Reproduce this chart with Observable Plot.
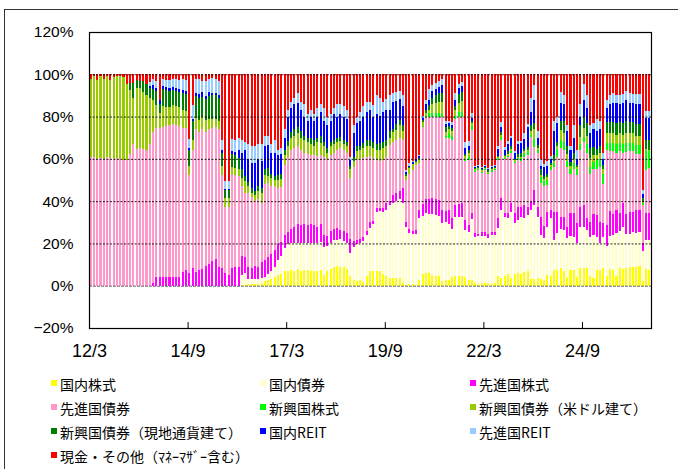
<!DOCTYPE html>
<html><head><meta charset="utf-8">
<script src="https://cdn.jsdelivr.net/npm/d3@7"></script>
<script src="https://cdn.jsdelivr.net/npm/@observablehq/plot@0.6"></script>
<style>
body{margin:0;background:#fff;}
#wrap{position:relative;width:678px;height:469px;overflow:hidden;font-family:"Noto Sans CJK JP",sans-serif;background:#fff;}
#border{position:absolute;left:4px;top:9px;width:720px;height:520px;border-top:1px solid #333;border-left:1px solid #333;}
#chart{position:absolute;left:0;top:0;}
#legend{position:absolute;left:0;top:372px;width:678px;height:97px;}
.item{position:absolute;font-size:14px;line-height:16px;white-space:nowrap;color:#000;}
.sw{position:absolute;width:6px;height:6px;}
</style></head><body>
<div id="wrap"><div id="border"></div><div id="chart"></div><div id="legend"></div></div>
<script>
const seriesNames = ["国内株式","国内債券","先進国株式","先進国債券","新興国株式","新興国債券（米ドル建て）","新興国債券（現地通貨建て）","国内REIT","先進国REIT","現金・その他（ﾏﾈｰﾏｻﾞｰ含む）"];
const seriesColors = ["#FFFF00","#FFFFCC","#FF00FF","#FF99CC","#00FF00","#99CC00","#008000","#0000FF","#99CCFF","#FF0000"];
const xTickLabels = ["12/3","14/9","17/3","19/9","22/3","24/9"];
const yTickValues = [-20,0,20,40,60,80,100,120];
const gridValues = [20,40,60,80,100];

// monthly allocation (%), 2012/3 onward
const ds = [
0,0,0,0,0,0,0,0,0,0, 0,0,0,0,0,0,0,0,0,0, 0,0,0,0,0,0,0,0,0,0, 0,0,0,0,0,0,0,0,0,0, 0,0,0,0,0,0,
0.5,0.5,1,1,1,1,1.5,2,2.5,3,
4,5.2,5.7,6.8,7,7.5,6.8,7.9,6.8,7.5,
7.5,7.1,7.1,6.8,7.5,5.2,6.8,7.9,8.8,9.1,
8.8,8.8,7.9,4.4,2.8,2.4,2.8,1.6,4.4,6.8,
6.8,7.1,7.1,5.7,4.4,3.6,3.6,3.6,3.6,1.3,
0.5,0.8,0.8,0.5,2.8,5.7,6,6,5.2,4.4,
4.7,2.4,2.5,2.8,4.1,4.7,4.7,4.4,4.1,2.8,
2.8,1.3,1,1.3,1.3,1.3,1,1.3,4.4,3.6,
4.7,5.7,3.6,5.7,6,5.7,6.3,6.8,3.1,3.1,
3.5,3.1,2.5,5.2,4.4,7.5,7.5,8.3,6.8,3.6,
7.5,7.5,4,8.3,8.3,8.3,4.4,3.6,7.5,7.5,
8.3,4.4,7.9,7.5,4.4,8.3,7.9,8.3,8.8,8.7,
8.8,9.1,2,7.9,7.5];
const db = [
0,0,0,0,0,0,0,0,0,0, 0,0,0,0,0,0,0,0,0,0, 0,0,0,0,0,0,0,0,0,0, 0,0,0,0,0,0,0,0,0,0, 0,0,0,0,0,0,
4.5,5.5,2,2,2,2,2,2,3,4,
5,6.8,8.3,11.2,12.5,12.5,13.2,12.1,13.2,12.5,
12.5,12.9,12.9,13.2,13,13.3,12.2,12.1,12.7,12.4,
13.2,12.2,12.1,11.1,15.7,17.1,17.2,19.4,19.6,20.7,
22.4,27.9,28.4,29.3,31.6,34.4,35.4,36.4,37.4,37.7,
27.5,24,23.6,23.9,29.1,27.3,28.3,28,28.8,29.1,
28.3,27.2,27.5,26.2,22.6,28,28,28.3,22.3,22.8,
28.6,21.7,22.3,22.4,22.2,21.5,23,22.7,22.8,32.2,
28,26.2,31.5,23.9,25.1,27,25.6,26.7,32.7,35.1,
29.2,20.9,20,22.8,27.6,14.2,17.3,18.7,19.6,18.9,
15.8,15.5,16.1,19.7,19.7,18.2,18.6,20.4,15.5,12.6,
14.7,14.2,15.6,16.5,20.6,17.7,20.1,16.2,15.7,16.8,
16.2,16.4,14.2,13.8,14.2];
const fs = [
0,0,0,0,0,0,0,0,0,0, 0,0,0,0,0,0,0,0,0,
1.3,4,4,4,4,4,4,4,4,6.7,
7.6,6,8.2,6.5,7.4,7.9,9.5,10.5,11.5,12.5,
9,8.5,6,5.3,8.3,8.7,8.8,9,7.5,6,
5.5,6.5,6,7.5,8,8,8,8,7.5,6.5,
6,6,7,8,9,8.5,9,8.5,9,8.5,
8,8.5,5.5,4.5,6,5.5,6,4.5,5,5,
6.5,2.5,2,2,2,2,2.5,1.6,1.6,1.3,
1.6,3,2,4,4,4,7,2.3,1.9,1.6,
2.1,3.9,5.5,6.7,7,7.5,7.5,7.5,6.4,5.5,
7,5.3,5.3,5.8,6.3,4.6,3.2,3.2,1.8,1.2,
1.9,1.7,1.7,1.6,1.6,4.7,5.6,1.6,2.4,4.2,
4.7,6.3,4.7,6.3,3.9,4,7.1,4.7,8.7,5.8,
7,3.8,13.3,10.2,5.5,6.3,5.5,11,11.3,9.5,
9.4,10.2,5.5,7,10,10.5,10.1,6.6,10.2,12,
10,10.8,8.3,11,9.5,10.5,9.5,10.8,10.3,3.9,
12.6,12.6];
const fb = [
61,61,60,60.5,60,61,60.5,60,60.5,60,59.5,59.5,
62.5,67,64.5,65,64.5,64,67,71.5,70.5,70.5,
71,71.5,72,72.5,72,71.5,68,67,46.5,56,
67.5,65.5,66,63,63.5,63.2,62.5,65,44,31.4,
32,44,43.5,43,33,30.5,35,33.5,30.5,32,
28,36,35,32,30,26.5,26,33,35.5,37,
37,37,35.5,34,34,33,33.5,33.5,33,37,
36.5,36,36,36.5,38.5,38,38,29,35,38.5,
38,37.5,35,31.5,29.4,22.9,22.2,22.9,22,26.5,
25,25,25,23,19.7,26.3,28.7,30.5,22.2,36.5,
39,39,38.5,39,39.5,44,34.2,33.7,36.9,41,
41.5,41,28,30.6,39,29.2,30,27.9,29.3,28.5,
28.4,28.9,27.5,27.5,25.7,26.7,23.3,23.7,22,21.6,
22.8,24.6,30.6,20.4,25.6,15.7,18.7,12.6,18.9,21,
26,32.5,31.3,28,18.7,20.7,22.9,26.6,29.8,31,
23,21,21.5,25.8,18.4,35.2,28,29.5,27.2,29.2,
24,29.4,28.5,28.5,26.7,26.7,18.1,20.4,21.2];
const es = [
0,0,0,0,0,0,0,0,0,0, 0,0,0,0,0,0,0,0,0,0, 0,0,0,0,0,0,0,0,0,0, 0,0,0,0,0,0,0,0,0,0,
0,0,0,0,0,0,0,0,0,0, 0,0,0,0,0,0,0,0,0,0, 0,0,0,0,0,0,0,0,0,0, 0,0,0,0,0,0,0,0,0,0,
0,0,0,0,0,0,0,0,0,0, 0,0,0,0,0,0,0,0,0,0, 0,
0.5,0.5,1.5,1.5,1.5,1.5,1,1.3,2.3,2.1,
1.5,2,2,1,1.6,2.4,0.5,0.5,0.5,0.5,
0.5,0.5,0.5,1.1,1.6,0.5,0.5,0.9,0.5,1.1,
1.5,2,1.5,1.1,3.8,1,3.1,2.5,2.4,1.3,
2,3.5,4,4,3,2,3,2.5,3,2.5,
4,3,3.5,4.5,4,5,3.5,4,4,4,
4,4,4.1,4,4,4,4,1,9.3,8];
const eu = [
37,38,37.5,38.5,38,38,37,38.5,38.5,39,39,36,
30,22,29,28.5,27,26,22,14.9,11,7,
10,9,8.5,9,9,9,8.5,8,4,4.5,
5.5,5.5,6,6,5,4,4,4,4,4,
4,4,3.5,3.5,4,5.5,3,2,3,4,
5,4.5,3.5,4,3,4,4,5,5,6,
6,6,6,6,5.5,5,4,6.5,5.5,5,
3,4,4,4,3.5,3,3,4,3,3.5,
4,4.5,5,4.5,4.8,4.5,5,5.5,5,3.5,
4.5,4.5,6,4,2,2.5,2.8,1.5,2,2,
1,1.5,4.5,5,5.5,6,1.5,2,2,2.5,
4.5,5.5,1.5,2,1,0.5,0.5,0.5,0.5,0.5,
0.5,0.5,0.5,1,1,1,1,1,0.5,0.5,
0.5,0.5,1.5,4.5,1,1,1,1.5,1,1,
1.5,4.5,4,3.5,1.5,2,1,3.5,4,4,
4.5,3.5,2.5,3,2,4.5,4.5,4.5,4.5,4.5,
4.5,4.5,4.5,4.5,4.5,4.5,0.6,0.5,0.5];
const el = [
0,0,0,0,0,0,0,0,0,0,0,0,
3.5,7,4,3.5,5.5,5.5,4.5,5.5,6.5,4.5,
8,8,7.5,7,7,7,8,8,7.5,9,
10,10.5,9.5,10,10.5,11.5,11,11,6.5,4,
4,6,6,5,4,2.5,2,2,2,2,
2,2.5,3.5,2,2,2.5,2.5,2,2.5,2.5,
3,3,3,2,2,3,3,2,3.5,2,
2,2,2,2,2,2,2,1.5,2,2.5,
2,2.5,3,3,3,3,3.5,3,3,3,
1.5,3,2.5,3,1,0.5,0,0.5,0.5,1,
1.5,2.5,3,3.5,4,4,2.5,1.5,1.5,2,
4,4,1,1,1,0.5,0.5,0.5,0.5,0.5,
0.5,0.5,0.5,1,0.5,1,1.5,0.5,1.5,2,
1,1.5,3,3,1.5,2.5,1.5,1.5,1,3,
2,4.5,6,3.5,2,3,1,5.5,5.5,6,
4.5,3.5,2.5,3,2,5.5,5.5,5.5,5.5,5.5,
5.5,6,5.5,5.5,5.5,5.5,1.7,4.5,5];
const jr = [
0,0,0,0,0,0,0,0,0,0,0,0,0,0,0,0,0,0,
1,1.6,1.5,1.8,1.5,1.5,1.5,1.5,1.5,1.5,
1.5,1.5,1,1,1.5,2,2,1,2,1,
1,1,1,0.5,0.5,1.5,1.5,4,8,12,
11,12,13,13,13,11,11,10,11,9.5,
9.5,6,11.5,11.5,12,11.5,10,9,8,10,
9,10,11,10,11,10,12,10,10.5,11,
11,3,11,11,12,12.5,13,14,12,14,
13,14,14,10,13,11,10,9,1,0.5,
1,0.8,1,1,3,2.5,3,3,3,4,
1.5,1.5,1.5,3,3,3,2.5,2,1.5,0.5,
0.8,0.8,0.8,0.8,0.8,0.8,3,2.5,2,3.5,
4,3,4.5,4.5,5,9.5,6,11,3.5,1.5,
4,3.5,2,11,9,8.5,8,7,5.5,7,
3,4,8,7,7,8.5,8.5,8,3,6.5,
8.5,9,9.5,8.5,9.5,10,9,9,9.5,9.5,
2,10.5,10.5];
const fr = [
0,0,0,0,0,0,0,0,0,0,0,0,0,0,0,0,0,0,
2,3.1,3.5,0,3.5,3.5,4,4,4.5,4.5,
5,5,4.5,7,7,7,5.5,7.5,6.5,7,
7,7,5,3.6,3.7,5.5,5.5,5.5,6,4,
7,8,8,7,8,5,4.5,4,6,2,
2.5,4,3,3,3,4.5,4,6,3,3,
3,4,4,6,4,3,3,6,5,5,
4,1.5,4,3,4,5,5,4,5.4,9,
8.5,5,5.5,7,4,4,3.5,5,0.7,1.4,
0.5,0.2,0.5,1,2,5,3,3,3,3,
1.5,1,1.5,3,2,2,3,2.5,2,0.5,
0.5,0.5,0.2,0.3,0.5,0.2,1.5,2.5,1.5,1.5,
1,0.5,1.5,1,2.5,1.5,7,6.8,3,3.5,
1.5,2.5,1.5,5,3,5,4,3,2,6,
4,6,7.5,6,4,3,6,4,3,4,
4,4.5,3.5,4,4,4,4.5,4,4.5,4.5,
1.8,3,3];
const cash = [
2,1,2.5,1,2,1,2.5,1.5,1,1,1.5,4.5,
4,4,2.5,3,3,4.5,3.5,2.1,3,12.2,
2,2.5,2.5,2,2,2.5,2.3,2.9,30.5,14.3,
2,2.1,3.1,3,2,1.8,2,3,31,50.5,
50.5,30.7,31.3,30.2,31,32,33,34,34,33,
33,29,29,33,31,36,35,26,17,13,
11,9,13,14,19,17,19,16,14,16,
20,19,16,14,14,15,17,39,24,20,
18,15,13,13,14.6,10,11,13,11.5,10,
9,8.5,8,10,45.3,42.1,41,40,38,19.5,
12,7,5,4,3,2,22,22,22.5,9,
4.5,3.5,32,31.5,18.5,43.5,42.7,43.7,43,44.4,
43.2,43,34,22.5,34.5,31.5,29,36.5,31.5,31.5,
28,23.5,11,5.2,27,40,42.5,41,38.5,22,
20,8.5,10,24,34,24,36,14,4.5,10,
24,23,21,22,37,12,10,9,10,10,
9.5,8,9,9.5,9.5,9.5,54.7,17.5,17.5];

const seriesValues = [ds, db, fs, fb, es, eu, el, jr, fr, cash];
const nMonths = fb.length;

const long = [];
seriesValues.forEach((arr, k) => {
  arr.forEach((v, i) => long.push({i, i2: i + 1, series: seriesNames[k], value: v}));
});

// month index of each x tick label ("yy/m", series starts 12/3)
const xTickIdx = xTickLabels.map(s => { const [y, m] = s.split("/").map(Number); return (y - 12) * 12 + (m - 3); });

const fmtY = d => { const p = Math.round(d * 100); return (p < 0 ? "\u2212" + (-p) : p) + "%"; };

const chart = Plot.plot({
  width: 678, height: 372,
  marginLeft: 89, marginRight: 27, marginTop: 32, marginBottom: 44,
  style: {fontFamily: "'Liberation Sans', Arial, sans-serif", background: "transparent", color: "#000"},
  x: {domain: [0, nMonths], axis: null},
  y: {domain: [-0.2, 1.2], axis: null},
  color: {domain: seriesNames, range: seriesColors},
  marks: [
    Plot.rectY(long, {x1: "i", x2: "i2", y: "value", fill: "series", order: seriesNames, offset: "normalize", insetLeft: 0.62, insetRight: 0.62, shapeRendering: "crispEdges"}),
    Plot.ruleY(gridValues.map(v => v / 100), {stroke: "#000", strokeDasharray: "2,1.5", strokeOpacity: 0.85}),
    Plot.ruleY([0], {stroke: "#666", strokeDasharray: "3,1"}),
    Plot.ruleX(xTickIdx, {x: d => d, y1: -0.2, y2: -0.2 + 0.028, stroke: "#000"}),
    Plot.frame({stroke: "#000", strokeWidth: 1.2}),
    Plot.axisY(yTickValues.map(v => v / 100), {tickFormat: fmtY, tickSize: 0, tickPadding: 16, fontSize: 15.5, label: null}),
    Plot.axisX(xTickIdx, {tickFormat: d => xTickLabels[xTickIdx.indexOf(d)], tickSize: 0, tickPadding: 16, fontSize: 18, label: null})
  ]
});
document.getElementById("chart").appendChild(chart);

// legend (row-major, 3 columns)
const legCols = [51, 260, 470];
const legRows = [12, 35.5, 60, 84];
const leg = document.getElementById("legend");
seriesNames.forEach((name, k) => {
  const cx = legCols[k % 3], cy = legRows[Math.floor(k / 3)];
  const sw = document.createElement("div");
  sw.className = "sw"; sw.style.left = cx + "px"; sw.style.top = (cy - 4) + "px"; sw.style.background = seriesColors[k];
  const t = document.createElement("div");
  t.className = "item"; t.style.left = (cx + 9) + "px"; t.style.top = (cy - 8) + "px"; t.textContent = name;
  leg.appendChild(sw); leg.appendChild(t);
});
</script>
</body></html>
